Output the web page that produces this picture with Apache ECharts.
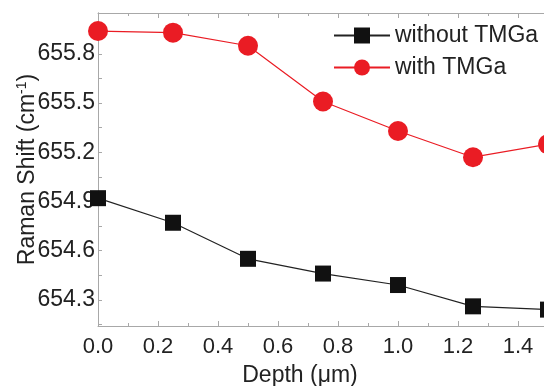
<!DOCTYPE html>
<html>
<head>
<meta charset="utf-8">
<script src="https://cdn.jsdelivr.net/npm/echarts@6/dist/echarts.min.js"></script>
<style>
  html, body { margin: 0; padding: 0; background: #fff; }
  #chart { width: 544px; height: 386px; }
</style>
</head>
<body>
<div id="chart"></div>
<script>
const depth = [0, 0.25, 0.5, 0.75, 1.0, 1.25, 1.5];
const withoutTMGa = [654.92, 654.77, 654.55, 654.46, 654.39, 654.26, 654.24];
const withTMGa = [655.94, 655.93, 655.85, 655.51, 655.33, 655.17, 655.25];
const yLabels = [654.3, 654.6, 654.9, 655.2, 655.5, 655.8];
const yTicks = [654.15, 654.3, 654.45, 654.6, 654.75, 654.9, 655.05, 655.2, 655.35, 655.5, 655.65, 655.8, 655.95];

const chart = echarts.init(document.getElementById('chart'));

const axisGray = '#a8a8a8';
const textColor = '#222';
const font = 'Liberation Sans, Arial, sans-serif';

function pairs(ys) {
  return depth.map((x, i) => [x, ys[i]]);
}

chart.setOption({
  animation: false,
  grid: { left: 98, top: 13, width: 480, height: 313, outerBoundsMode: 'none', containLabel: false },
  legend: {
    orient: 'vertical',
    left: 328,
    top: 19,
    itemWidth: 56,
    itemHeight: 20,
    itemGap: 9,
    textStyle: { fontSize: 23, color: textColor, fontFamily: font },
    data: ['without TMGa', 'with TMGa'],
  },
  xAxis: [
    {
      type: 'value',
      min: 0,
      max: 1.6,
      interval: 0.2,
      axisLine: { lineStyle: { color: axisGray, width: 1 } },
      axisTick: { inside: true, length: 5, lineStyle: { color: axisGray } },
      minorTick: { show: true, splitNumber: 2, length: 3, lineStyle: { color: axisGray } },
      splitLine: { show: false },
      axisLabel: {
        color: textColor, fontSize: 22, fontFamily: font, margin: 10,
        formatter: (v) => v.toFixed(1),
      },
      name: 'Depth (μm)',
      nameLocation: 'middle',
      nameGap: 38,
      nameTextStyle: { fontSize: 23, color: textColor, fontFamily: font, padding: [0, 76, 0, 0] },
    },
    {
      type: 'value',
      position: 'top',
      min: 0,
      max: 1.6,
      interval: 0.2,
      axisLine: { show: true, lineStyle: { color: axisGray, width: 1 } },
      axisTick: { inside: true, length: 5, lineStyle: { color: axisGray } },
      minorTick: { show: true, splitNumber: 2, length: 3, lineStyle: { color: axisGray } },
      splitLine: { show: false },
      axisLabel: { show: false },
    },
  ],
  yAxis: [
    {
      type: 'value',
      min: 654.14,
      max: 656.05,
      axisLine: { show: true, lineStyle: { color: axisGray, width: 1 } },
      axisTick: { inside: true, length: 4, customValues: yTicks, lineStyle: { color: axisGray } },
      splitLine: { show: false },
      axisLabel: {
        customValues: yLabels,
        color: textColor, fontSize: 23, fontFamily: font, margin: 3,
        formatter: (v) => v.toFixed(1),
      },
      name: '{n|Raman Shift (cm}{s|-1}{n|)}',
      nameLocation: 'middle',
      nameGap: 57,
      nameRotate: 90,
      nameMoveOverlap: false,
      nameTextStyle: {
        rich: {
          n: { fontSize: 23, color: textColor, fontFamily: font },
          s: { fontSize: 14, color: textColor, fontFamily: font, verticalAlign: 'top', padding: [0, 0, 12, 0] },
        },
      },
    },
    {
      type: 'value',
      position: 'right',
      min: 654.14,
      max: 656.05,
      axisLine: { show: true, lineStyle: { color: axisGray, width: 1 } },
      axisTick: { show: false },
      splitLine: { show: false },
      axisLabel: { show: false },
    },
  ],
  series: [
    {
      name: 'without TMGa',
      type: 'line',
      data: pairs(withoutTMGa),
      symbol: 'rect',
      symbolSize: 16,
      itemStyle: { color: '#111' },
      lineStyle: { color: '#222', width: 1.2 },
      z: 3,
    },
    {
      name: 'with TMGa',
      type: 'line',
      data: pairs(withTMGa),
      symbol: 'circle',
      symbolSize: 20,
      itemStyle: { color: '#ea1c24' },
      lineStyle: { color: '#ea1c24', width: 1.2 },
      z: 3,
    },
  ],
});
</script>
</body>
</html>
